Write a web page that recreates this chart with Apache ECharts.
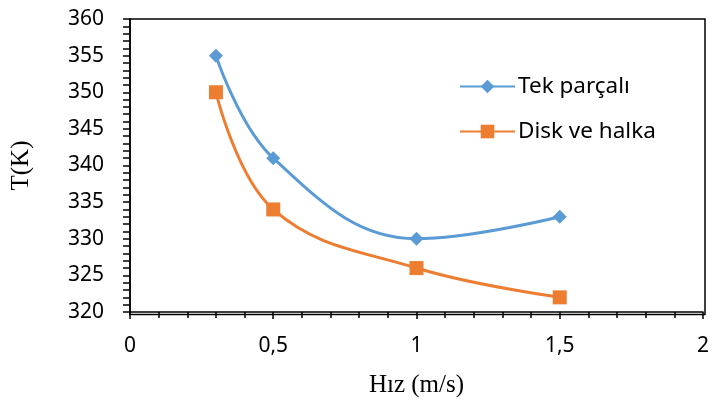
<!DOCTYPE html>
<html>
<head>
<meta charset="utf-8">
<script src="https://cdn.jsdelivr.net/npm/echarts@6/dist/echarts.min.js"></script>
<style>
  html, body { margin: 0; padding: 0; background: #fff; }
  #chart { width: 712px; height: 403px; }
</style>
</head>
<body>
<div id="chart"></div>
<script>
// Speed (m/s) against temperature (K) for two designs
const speeds = [0.3, 0.5, 1, 1.5];
const tekParcali = [355, 341, 330, 333];
const diskVeHalka = [350, 334, 326, 322];
const seriesNames = ['Tek parçalı', 'Disk ve halka'];
const xTicks = [0, 0.5, 1, 1.5, 2];
const yTicks = [320, 325, 330, 335, 340, 345, 350, 355, 360];

const blue = '#5B9BD5';
const orange = '#ED7D31';
const tickFont = '"Noto Sans", sans-serif';
const titleFont = '"Liberation Serif", serif';

const chart = echarts.init(document.getElementById('chart'));

function pairs(xs, ys) { return xs.map((x, i) => [x, ys[i]]); }

chart.setOption({
  animation: false,
  grid: { left: 130, right: 7, top: 19, bottom: 88.5 },
  legend: {
    orient: 'vertical',
    left: 459, top: 75, padding: 0,
    itemWidth: 55, itemHeight: 17, itemGap: 22,
    textStyle: { fontFamily: tickFont, fontSize: 22.5, color: '#000', padding: [0, 0, 0, -2], lineHeight: 17 },
    data: seriesNames
  },
  xAxis: {
    type: 'value',
    min: xTicks[0], max: xTicks[xTicks.length - 1], interval: 0.5,
    name: 'Hız (m/s)', nameLocation: 'middle', nameGap: 61,
    nameTextStyle: { fontFamily: titleFont, fontSize: 25, color: '#000' },
    axisLine: { lineStyle: { color: '#000', width: 1.5 } },
    axisTick: { show: true, length: 7, lineStyle: { color: '#000', width: 1.5 } },
    minorTick: { show: true, splitNumber: 5, length: 6, lineStyle: { color: '#000', width: 1.5 } },
    splitLine: { show: false },
    axisLabel: {
      fontFamily: tickFont, fontSize: 21, color: '#000', margin: 24,
      formatter: v => String(v).replace('.', ',')
    }
  },
  yAxis: {
    type: 'value',
    min: yTicks[0], max: yTicks[yTicks.length - 1], interval: 5,
    name: 'T(K)', nameLocation: 'middle', nameGap: 96, nameRotate: 90,
    nameTextStyle: { fontFamily: titleFont, fontSize: 25, color: '#000' },
    axisLine: { show: true, lineStyle: { color: '#000', width: 1.5 } },
    axisTick: { show: true, length: 7, lineStyle: { color: '#000', width: 1.5 } },
    minorTick: { show: true, splitNumber: 5, length: 7, lineStyle: { color: '#000', width: 1.5 } },
    splitLine: { show: false },
    axisLabel: { fontFamily: tickFont, fontSize: 21, color: '#000', margin: 26 }
  },
  series: [
    {
      name: seriesNames[0], type: 'line', smooth: 0.4,
      data: pairs(speeds, tekParcali),
      symbol: 'diamond', symbolSize: 14,
      lineStyle: { color: blue, width: 3 },
      itemStyle: { color: blue }
    },
    {
      name: seriesNames[1], type: 'line', smooth: 0.4,
      data: pairs(speeds, diskVeHalka),
      symbol: 'rect', symbolSize: 14,
      lineStyle: { color: orange, width: 3 },
      itemStyle: { color: orange }
    }
  ],
  // Close the plot frame on the top and right sides
  graphic: [{
    type: 'rect', silent: true, z: 0,
    shape: { x: 130, y: 19, width: 575, height: 295.5 },
    style: { fill: 'none', stroke: '#000', lineWidth: 1.5 }
  }]
});
</script>
</body>
</html>
